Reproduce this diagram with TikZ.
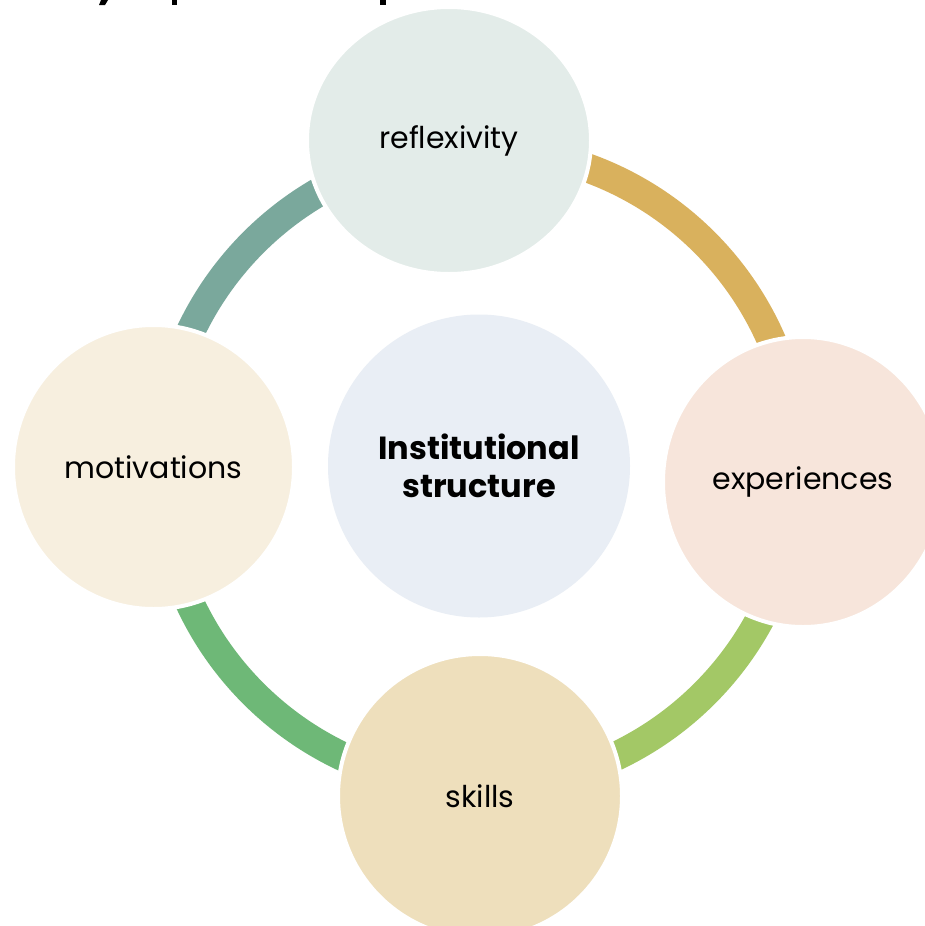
\documentclass[tikz,border=0pt]{standalone}
\usepackage{fontspec}
\setmainfont{Poppins}
\usetikzlibrary{shapes.geometric}
\definecolor{cTeal}{HTML}{7AA89C}
\definecolor{cGold}{HTML}{D9B15D}
\definecolor{cLime}{HTML}{A3C866}
\definecolor{cGreen}{HTML}{6EB877}
\definecolor{fRef}{HTML}{E3ECE9}
\definecolor{fExp}{HTML}{F7E5DB}
\definecolor{fSki}{HTML}{EEDFBC}
\definecolor{fMot}{HTML}{F7EFDF}
\definecolor{fCen}{HTML}{E9EEF5}
\tikzset{
  bubble/.style={ellipse, draw=white, line width=4pt, inner sep=0pt, align=center, text=black, font=\fontsize{30}{34}\selectfont},
  ringarc/.style={line width=29pt},
  frag/.style={fill=black, draw=none}
}
\begin{document}
\begin{tikzpicture}[x=1pt, y=-1pt]
\useasboundingbox (0,0) rectangle (925,926);
\fill[white] (0,0) rectangle (925,926);
% cut-off title fragments at the top edge
\fill[frag] (101,0) -- (108,0) -- (105,5) -- (99,5) -- cycle;
\fill[frag] (172,0) rectangle (177,5);
\fill[frag] (380,0) rectangle (386,5);
% ring arcs
\coordinate (ring) at (479,468);
\draw[ringarc, cTeal]  ([shift={(180:319)}]ring) arc[start angle=180, end angle=270, radius=319];
\draw[ringarc, cGold]  ([shift={(270:319)}]ring) arc[start angle=270, end angle=360, radius=319];
\draw[ringarc, cLime]  ([shift={(0:319)}]ring) arc[start angle=0, end angle=90, radius=319];
\draw[ringarc, cGreen] ([shift={(90:319)}]ring) arc[start angle=90, end angle=180, radius=319];
% circles
\node[bubble, fill=fRef, minimum width=284pt, minimum height=267pt] (ref) at (449,140.5) {reflexivity};
\node[bubble, fill=fExp, minimum width=280pt, minimum height=290pt] (exp) at (803,482) {experiences};
\node[bubble, fill=fSki, minimum width=284pt, minimum height=284pt] (ski) at (480,796) {skills};
\node[bubble, fill=fMot, minimum width=281pt, minimum height=284pt] (mot) at (153.5,467) {motivations};
\node[ellipse, fill=fCen, draw=none, minimum width=302pt, minimum height=303pt, inner sep=0pt, align=center, font=\fontsize{32}{38}\selectfont\bfseries] (cen) at (479,466) {Institutional\\structure};
\end{tikzpicture}
\end{document}
